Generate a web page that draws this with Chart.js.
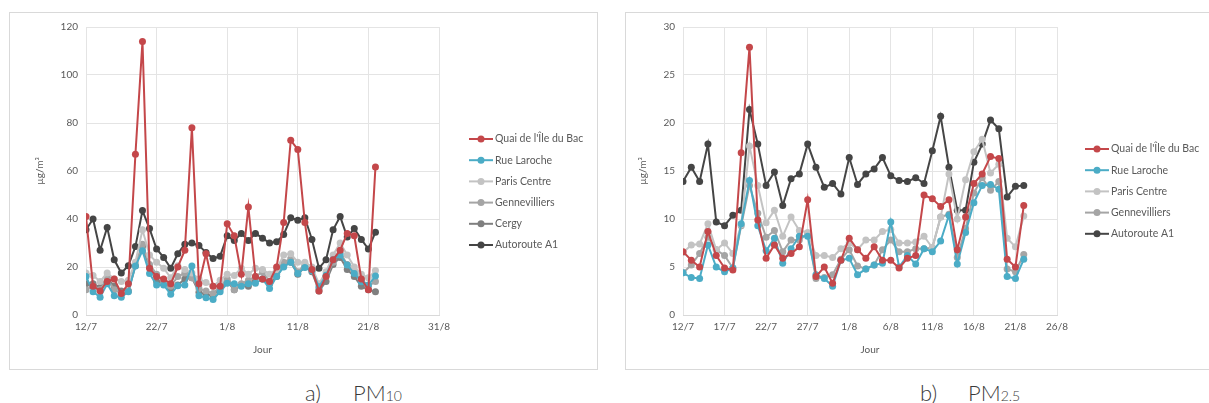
<!DOCTYPE html>
<html>
<head>
<meta charset="utf-8">
<script src="https://cdn.jsdelivr.net/npm/chart.js@4.4.1/dist/chart.umd.min.js"></script>
<style>
body { margin:0; background:#fff; width:1209px; height:403px; position:relative; overflow:hidden; font-family:Lato, "Open Sans", sans-serif; }
.panel { position:absolute; top:12px; height:358px; border:1px solid #d9d9d9; box-sizing:border-box; }
.cap { position:absolute; top:382px; font-size:22px; line-height:22px; color:#3a3a3a; font-weight:300; white-space:pre; }
.cap .sub { font-size:14px; }
</style>
</head>
<body>
<div class="panel" style="left:9px;width:589px"><canvas id="pm10" width="587" height="356"></canvas></div>
<div class="panel" style="left:625px;width:600px"><canvas id="pm25" width="584" height="356"></canvas></div>
<div class="cap" style="left:305px">a)</div>
<div class="cap" style="left:353px">PM<span class="sub">10</span></div>
<div class="cap" style="left:920px">b)</div>
<div class="cap" style="left:968px">PM<span class="sub">2.5</span></div>

<script>
// jours depuis le 12/7
const pm10Ticks = ['12/7', '22/7', '1/8', '11/8', '21/8', '31/8'];
const pm25Ticks = ['12/7', '17/7', '22/7', '27/7', '1/8', '6/8', '11/8', '16/8', '21/8', '26/8'];

// PM10
const pm10Quai = [41, 12, 10, 14, 15, 9, 13, 67, 114, 19.5, 16, 15, 13, 20, 27, 78, 13, 25.5, 12, 12, 38, 33, 17, 45, 16, 15, 14, 20, 38.5, 72.8, 69, 38.5, 19, 10, 16, 23, 27, 34, 33, 15, 10.5, 61.7];
const pm10Laroche = [16, 9.7, 7.4, 13, 8, 7.4, 9.7, 20.4, 26.8, 17.3, 12.5, 12.5, 8.6, 12.2, 12.5, 20.4, 8, 7.2, 6.5, 9.7, 13.2, 13, 12, 13, 13.2, 15, 11, 16, 20, 22, 17.3, 19.8, 18.4, 11.8, 16.6, 23, 25, 20.8, 17.3, 13.9, 12.5, 16.2];
const pm10Paris = [17.5, 16.5, 14, 17.5, 15, 14, 14.5, 22, 35.5, 25, 22, 19.5, 15.5, 20.5, 19, 17.5, 15, 13.5, 12, 14.5, 17, 16.5, 19.5, 17, 19.5, 19, 17, 19, 25, 25.5, 22, 22, 20, 13, 18, 25, 30, 25, 20, 17, 15.5, 18.5];
const pm10Genn = [10.5, 12, 10.5, 15, 10.5, 9, 10, 21, 29.5, 21, 17, 14, 12, 16, 17.5, 15.5, 11, 10, 9, 12, 15, 10.5, 13, 14.5, 16, 18, 14, 17, 22, 23.5, 18, 21, 19, 11, 16, 22, 26, 21, 18, 15, 12, 14];
const pm10Cergy = [13, 13, 11.5, 15.5, 12, 10, 10, 20.5, 28.5, 20, 14, 13.5, 11, 12.5, 15, 15.5, 9.5, 8.5, 8, 11, 14, 10.5, 12.5, 12, 15.5, 15, 13, 16, 20.5, 22, 17, 20, 18, 10, 14, 21, 24, 19, 16, 12, 10.5, 9.7];
const pm10A1 = [35.5, 40, 27, 36.5, 23, 17.5, 20.5, 28.5, 43.5, 36, 27.5, 24, 19.5, 25.5, 29.5, 30, 29, 26, 23.5, 24.5, 33, 31, 34, 31, 34, 32, 30, 30.5, 33.5, 40.5, 39.5, 40.5, 31.5, 19.5, 23, 35.5, 41, 32.5, 36, 31.5, 27.5, 34.5];

// PM2.5
const pm25Quai = [6.6, 5.7, 5.0, 8.7, 6.2, 4.9, 4.7, 16.9, 27.9, 9.9, 5.9, 7.3, 5.9, 6.4, 7.1, 12.0, 4.0, 5.0, 3.3, 5.7, 8.0, 6.8, 5.9, 7.1, 5.7, 5.7, 4.9, 5.9, 6.2, 12.5, 12.1, 11.3, 12.0, 6.8, 10.2, 13.7, 14.7, 16.5, 16.3, 5.8, 5.0, 11.4];
const pm25Laroche = [4.4, 3.9, 3.8, 7.3, 5.0, 4.5, 4.9, 9.5, 14.0, 9.3, 6.7, 8.0, 5.4, 6.9, 8.2, 8.2, 4.2, 3.8, 3.0, 5.7, 5.9, 4.2, 4.8, 5.2, 5.4, 9.7, 5.0, 6.2, 5.3, 6.9, 6.6, 7.7, 10.4, 5.3, 8.6, 11.7, 13.5, 13.6, 13.1, 4.0, 3.8, 5.8];
const pm25Paris = [6.5, 7.3, 7.4, 9.5, 6.8, 7.5, 6.4, 9.4, 17.6, 13.5, 9.6, 10.9, 8.2, 10.2, 8.8, 8.6, 6.2, 6.2, 6.0, 6.9, 7.5, 6.8, 7.8, 7.8, 8.7, 8.9, 7.5, 7.5, 7.6, 8.2, 7.0, 10.2, 14.7, 10.0, 14.1, 17.0, 18.3, 14.8, 15.7, 8.0, 7.1, 10.3];
const pm25Genn = [4.4, 5.2, 6.4, 8.1, 6.8, 6.2, 4.9, 9.3, 13.5, 10.6, 8.1, 8.8, 6.6, 7.8, 7.8, 8.5, 3.8, 3.9, 4.2, 5.8, 6.8, 5.1, 4.8, 5.2, 6.8, 7.8, 6.6, 6.6, 6.9, 6.9, 7.0, 10.2, 10.5, 6.0, 9.0, 12.7, 14.3, 13.0, 13.9, 4.8, 4.5, 6.3];
const pm25A1 = [13.9, 15.4, 13.9, 17.8, 9.7, 9.3, 10.4, 10.9, 21.4, 17.8, 13.5, 14.9, 11.4, 14.2, 14.7, 17.8, 15.4, 13.3, 13.7, 12.6, 16.4, 13.6, 14.7, 15.2, 16.4, 14.5, 14.0, 13.9, 14.3, 13.7, 17.1, 20.7, 15.4, 10.9, 10.9, 15.9, 17.8, 20.3, 19.4, 12.3, 13.4, 13.5];

const COLORS = {
    quai: '#c4474a',
    laroche: '#4bacc6',
    paris: '#c3c3c3',
    genn: '#a5a5a5',
    cergy: '#7f7f7f',
    a1: '#454545'
};
const TEXT = '#595959';
const FONT = 'Lato, "Open Sans", sans-serif';

function serie(label, values, color) {
    return {
        label: label,
        data: values.map((v, i) => ({ x: i, y: v })),
        borderColor: color,
        backgroundColor: color,
        borderWidth: 2,
        pointRadius: 3.5,
        pointHoverRadius: 3.5,
        pointBorderWidth: 0,
        tension: 0
    };
}

// legende a droite, trait + point comme dans Excel
const sideLegend = {
    id: 'sideLegend',
    afterDraw(chart, args, opts) {
        const ctx = chart.ctx;
        ctx.save();
        chart.data.datasets.forEach((ds, i) => {
            const y = opts.y + i * opts.gap;
            ctx.strokeStyle = ds.borderColor;
            ctx.lineWidth = 2;
            ctx.beginPath();
            ctx.moveTo(opts.x, y);
            ctx.lineTo(opts.x + 24, y);
            ctx.stroke();
            ctx.fillStyle = ds.borderColor;
            ctx.beginPath();
            ctx.arc(opts.x + 12, y, 3.5, 0, Math.PI * 2);
            ctx.fill();
            ctx.fillStyle = TEXT;
            ctx.font = '10.5px ' + FONT;
            ctx.textBaseline = 'middle';
            ctx.fillText(ds.label, opts.x + 26, y);
        });
        ctx.restore();
    }
};

function makeChart(id, datasets, cfg) {
    return new Chart(document.getElementById(id), {
        type: 'line',
        data: { datasets: datasets },
        plugins: [sideLegend],
        options: {
            responsive: false,
            animation: false,
            devicePixelRatio: 1,
            layout: { padding: cfg.padding },
            plugins: {
                legend: { display: false },
                tooltip: { enabled: false },
                sideLegend: cfg.legend
            },
            scales: {
                x: {
                    type: 'linear',
                    min: 0,
                    max: cfg.xMax,
                    afterFit: s => { s.height = 45; },
                    afterBuildTicks: s => { s.ticks = cfg.ticks.map((t, i) => ({ value: i * cfg.step })); },
                    ticks: {
                        color: TEXT,
                        font: { family: FONT, size: 10 },
                        padding: 6,
                        maxRotation: 0,
                        autoSkip: false,
                        callback: (v) => cfg.ticks[Math.round(v / cfg.step)]
                    },
                    grid: { color: '#e4e4e4', drawTicks: false },
                    border: { color: '#d9d9d9' },
                    title: { display: true, text: 'Jour', color: TEXT, font: { family: FONT, size: 10 }, padding: { top: 0, bottom: 4 } }
                },
                y: {
                    min: 0,
                    max: cfg.yMax,
                    afterFit: s => { s.width = cfg.yWidth; },
                    ticks: { stepSize: cfg.yStep, color: TEXT, font: { family: FONT, size: 10 }, padding: 8 },
                    grid: { color: '#e4e4e4', drawTicks: false },
                    border: { display: false },
                    title: { display: true, text: 'µg/m³', color: TEXT, font: { family: FONT, size: 10 }, padding: { top: 4, bottom: 0 } }
                }
            }
        }
    });
}

makeChart('pm10', [
    serie("Quai de l'Île du Bac", pm10Quai, COLORS.quai),
    serie('Rue Laroche', pm10Laroche, COLORS.laroche),
    serie('Paris Centre', pm10Paris, COLORS.paris),
    serie('Gennevilliers', pm10Genn, COLORS.genn),
    serie('Cergy', pm10Cergy, COLORS.cergy),
    serie('Autoroute A1', pm10A1, COLORS.a1)
], {
    padding: { left: 20, right: 158, top: 14, bottom: 9 },
    yWidth: 56, yMax: 120, yStep: 20,
    xMax: 50, step: 10, ticks: pm10Ticks,
    legend: { x: 459, y: 126, gap: 21.2 }
});

makeChart('pm25', [
    serie("Quai de l'Île du Bac", pm25Quai, COLORS.quai),
    serie('Rue Laroche', pm25Laroche, COLORS.laroche),
    serie('Paris Centre', pm25Paris, COLORS.paris),
    serie('Gennevilliers', pm25Genn, COLORS.genn),
    serie('Autoroute A1', pm25A1, COLORS.a1)
], {
    padding: { left: 7, right: 153, top: 14, bottom: 9 },
    yWidth: 50, yMax: 30, yStep: 5,
    xMax: 45, step: 5, ticks: pm25Ticks,
    legend: { x: 459, y: 136, gap: 21.2 }
});
</script>
</body>
</html>
